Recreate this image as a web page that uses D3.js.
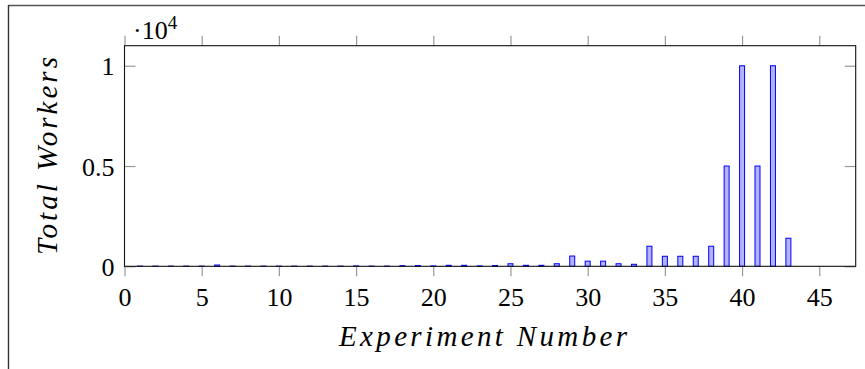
<!DOCTYPE html>
<html><head><meta charset="utf-8">
<script src="https://cdn.jsdelivr.net/npm/d3@7"></script>
<style>
body{margin:0;background:#fff;}
svg{display:block;}
text{font-family:"Liberation Serif","DejaVu Serif",serif;fill:#000;}
</style></head>
<body><svg id="c" width="865" height="369"></svg>
<script>
const experiments = d3.range(1, 44);
const totalWorkers = [10,10,10,10,10,64,10,10,10,10,10,10,10,10,20,10,10,30,40,20,50,50,20,40,128,50,50,128,512,256,256,128,100,1000,500,500,500,1000,5000,10000,5000,10000,1400];
const xTicks = [0,5,10,15,20,25,30,35,40,45];
const yTicks = [0,5000,10000];
const yTickLabels = ["0","0.5","1"];

const svg = d3.select("#c");
const L = 124.5, R = 855.7, T = 45.7, B = 266.3;
const x = d3.scaleLinear().domain([0, 47.36]).range([L, R]);
const y = d3.scaleLinear().domain([0, 11000]).range([B, T]);

// outer frame
svg.append("line").attr("x1",8.5).attr("x2",865).attr("y1",5.5).attr("y2",5.5).attr("stroke","#555").attr("stroke-width",1.6);
svg.append("line").attr("x1",8.5).attr("x2",8.5).attr("y1",5).attr("y2",369).attr("stroke","#333").attr("stroke-width",1.4);

// bars
svg.append("g").selectAll("rect").data(experiments).join("rect")
  .attr("x", d => x(d) - 2.5)
  .attr("width", 5)
  .attr("y", (d,i) => y(totalWorkers[i]))
  .attr("height", (d,i) => Math.max(0.01, B - y(totalWorkers[i])))
  .attr("fill", "#b3b3ff")
  .attr("stroke", "#0000ff")
  .attr("stroke-width", 1);

// axes (ticks)
const tickStroke = "#999";
const xb = d3.axisBottom(x).tickValues(xTicks).tickSize(10).tickPadding(11).tickFormat(d3.format("d"));
const gxb = svg.append("g").attr("transform",`translate(0,${B})`).call(xb);
const xt = d3.axisTop(x).tickValues(xTicks).tickSize(10).tickFormat("");
const gxt = svg.append("g").attr("transform",`translate(0,${T})`).call(xt);
const yl = d3.axisLeft(y).tickValues(yTicks).tickSize(-11).tickPadding(10).tickFormat((d,i)=>yTickLabels[i]);
const gyl = svg.append("g").attr("transform",`translate(${L},0)`).call(yl);
const yr = d3.axisRight(y).tickValues(yTicks).tickSize(-11).tickFormat("");
const gyr = svg.append("g").attr("transform",`translate(${R},0)`).call(yr);
[gxb,gxt,gyl,gyr].forEach(g=>{
  g.select(".domain").remove();
  g.selectAll(".tick line").attr("stroke",tickStroke).attr("stroke-width",1.2);
  g.selectAll("text").style("font-size","26px").attr("fill","#000");
});
gyl.selectAll(".tick text").attr("dy","0.35em");

// plot border
svg.append("rect").attr("x",L).attr("y",T).attr("width",R-L).attr("height",B-T)
  .attr("fill","none").attr("stroke","#111").attr("stroke-width",1.1);

// scale factor
const sf = svg.append("text").attr("x",133).attr("y",39).style("font-size","26px");
sf.append("tspan").text("·10");
sf.append("tspan").attr("dy",-10).style("font-size","19px").text("4");

// axis labels
svg.append("text").attr("x",483).attr("y",346).attr("text-anchor","middle")
  .attr("textLength",288).attr("lengthAdjust","spacing")
  .style("font-size","29px").style("font-style","italic").text("Experiment Number");
svg.append("text").attr("transform","translate(57,156) rotate(-90)").attr("text-anchor","middle")
  .attr("textLength",198).attr("lengthAdjust","spacing")
  .style("font-size","29px").style("font-style","italic").text("Total Workers");
</script></body></html>
